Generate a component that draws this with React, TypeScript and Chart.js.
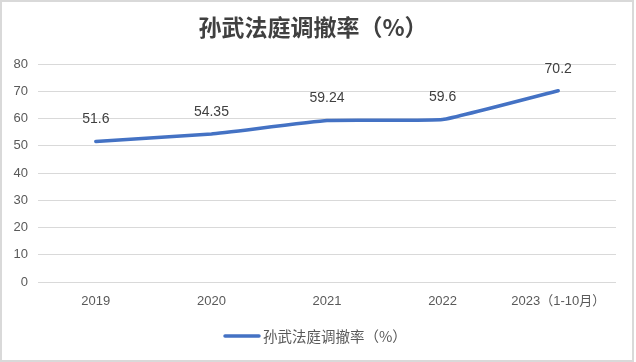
import React, { useEffect, useRef } from "react";
import { Chart, registerables } from "chart.js";

Chart.register(...registerables);

const titleText = "孙武法庭调撤率（%）";
const seriesLabel = "孙武法庭调撤率（%）";
const categories = ["2019", "2020", "2021", "2022", "2023（1-10月）"];
const values = [51.6, 54.35, 59.24, 59.6, 70.2];
const valueLabels = ["51.6", "54.35", "59.24", "59.6", "70.2"];
const yMin = 0;
const yMax = 80;
const yStep = 10;

const LINE_COLOR = "#4472C4";
const TEXT_COLOR = "#595959";
const FONT = "'Liberation Sans', 'Noto Sans CJK SC', sans-serif";

const decorPlugin = {
  id: "decor",
  beforeDraw(chart: any) {
    const ctx = chart.ctx;
    ctx.save();
    ctx.fillStyle = "#ffffff";
    ctx.fillRect(0, 0, chart.width, chart.height);
    ctx.restore();
  },
  afterDraw(chart: any) {
    const ctx = chart.ctx;
    ctx.save();
    // border
    ctx.strokeStyle = "#d9d9d9";
    ctx.lineWidth = 2;
    ctx.strokeRect(1, 1, 632, 360);
    // title
    ctx.fillStyle = "#404040";
    ctx.font = "bold 23px 'Noto Sans CJK SC', sans-serif";
    ctx.textAlign = "center";
    ctx.textBaseline = "middle";
    ctx.fillText(titleText, 313, 27);
    // data labels
    const meta = chart.getDatasetMeta(0);
    ctx.font = "14px " + FONT;
    ctx.fillStyle = "#404040";
    meta.data.forEach((pt: any, i: number) => {
      ctx.fillText(valueLabels[i], pt.x, pt.y - 22);
    });
    // legend
    ctx.strokeStyle = LINE_COLOR;
    ctx.lineWidth = 3.5;
    ctx.lineCap = "round";
    ctx.beginPath();
    ctx.moveTo(225, 336);
    ctx.lineTo(259, 336);
    ctx.stroke();
    ctx.fillStyle = TEXT_COLOR;
    ctx.font = "14.5px 'Noto Sans CJK SC', sans-serif";
    ctx.textAlign = "left";
    ctx.fillText(seriesLabel, 263, 336);
    ctx.restore();
  },
};

export default function App() {
  const ref = useRef<HTMLCanvasElement | null>(null);
  useEffect(() => {
    if (!ref.current) return;
    const chart = new Chart(ref.current, {
      type: "line",
      data: {
        labels: categories,
        datasets: [
          {
            label: seriesLabel,
            data: values,
            borderColor: LINE_COLOR,
            backgroundColor: LINE_COLOR,
            borderWidth: 3.5,
            pointRadius: 0,
            tension: 0.1,
            borderCapStyle: "round",
          },
        ],
      },
      options: {
        responsive: false,
        animation: false,
        layout: { padding: { left: 0, right: 20, top: 64, bottom: 50 } },
        plugins: {
          legend: { display: false },
          title: { display: false },
          tooltip: { enabled: false },
        },
        scales: {
          x: {
            offset: true,
            grid: { display: false, drawTicks: false },
            border: { display: false },
            ticks: { color: TEXT_COLOR, font: { size: 13, family: FONT }, padding: 12, maxRotation: 0 },
            afterFit(scale: any) {
              scale.height = 30;
            },
          },
          y: {
            min: yMin,
            max: yMax,
            grid: { color: "#d9d9d9", lineWidth: 1, drawTicks: false },
            border: { display: false },
            ticks: { stepSize: yStep, color: TEXT_COLOR, font: { size: 13, family: FONT }, padding: 10 },
            afterFit(scale: any) {
              scale.width = 38;
            },
          },
        },
      },
      plugins: [decorPlugin],
    });
    return () => chart.destroy();
  }, []);
  return (
    <div style={{ position: "absolute", left: 0, top: 0, width: 636, height: 362 }}>
      <canvas ref={ref} width={636} height={362} style={{ width: 636, height: 362, display: "block" }} />
    </div>
  );
}
